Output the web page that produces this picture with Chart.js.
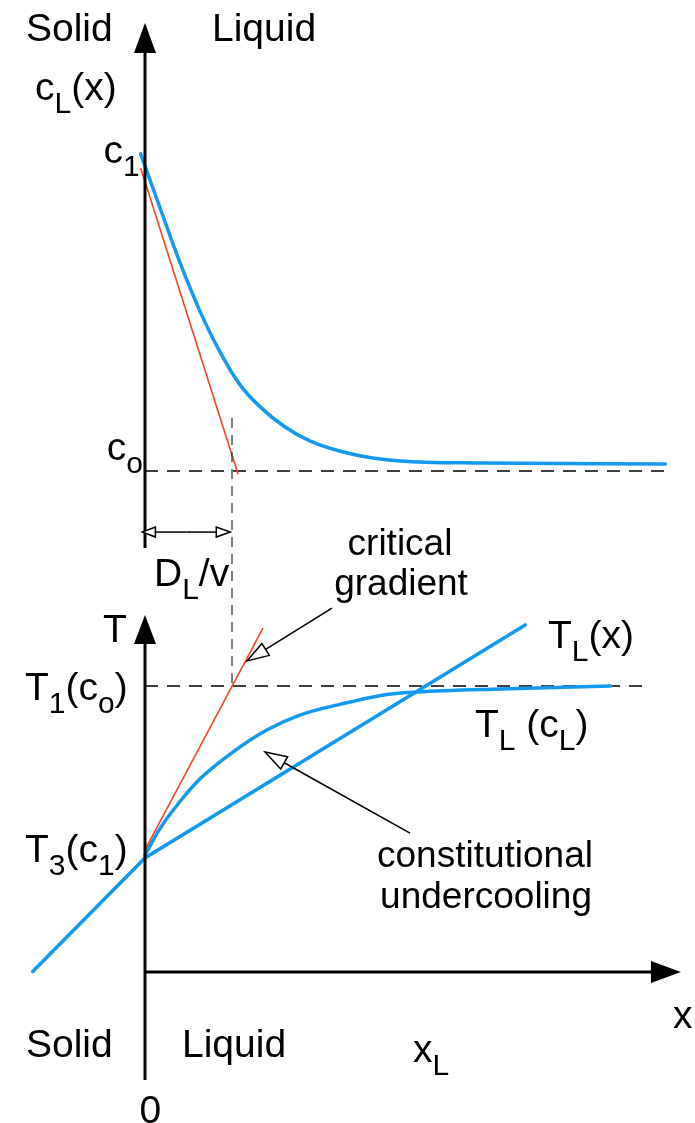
<!DOCTYPE html>
<html>
<head>
<meta charset="utf-8">
<script src="https://cdn.jsdelivr.net/npm/chart.js@4.4.1/dist/chart.umd.min.js"></script>
<style>
  html, body { margin: 0; padding: 0; background: #ffffff; }
  canvas { display: block; }
</style>
</head>
<body>
<canvas id="diagram" width="695" height="1123"></canvas>
<script>
// Distance x from the solid/liquid interface, in units of D_L/v.
// Concentration c in units of c_o; temperature T normalised so T3(c1)=0, T1(co)=1.

// Solute profile in the liquid, c_L(x)
const concX = [-0.05, 0.17, 0.40, 0.63, 0.86, 1.09, 1.32, 1.61, 1.90, 2.36, 2.93, 3.85, 5.98];
const concC = [3.02, 2.68, 2.33, 2.02, 1.76, 1.55, 1.41, 1.28, 1.19, 1.11, 1.064, 1.051, 1.045];

// Tangent to c_L(x) at the interface
const tangentX = [-0.05, 1.07];
const tangentC = [2.93, 0.98];

// Reference levels
const cO = 1;            // bulk concentration c_o
const cOLineEnd = 6.01;  // extent of the c_o guide line
const diffLength = 1;    // D_L/v
const T1 = 1;            // T1(c_o)
const T1LineEnd = 5.72;  // extent of the T1 guide line

// Liquidus temperature following the solute profile, T_L(c_L)
const liqX = [0, 0.17, 0.37, 0.63, 1.01, 1.40, 1.78, 2.36, 2.74, 3.13, 4.08, 5.35];
const liqT = [0.017, 0.169, 0.308, 0.459, 0.616, 0.744, 0.831, 0.907, 0.948, 0.965, 0.983, 1.0];

// Actual temperature T_L(x) (steeper in the solid)
const gradX = [-1.29, 0, 4.37];
const gradT = [-0.66, 0, 1.355];

// Critical gradient line
const critX = [0, 1.356];
const critT = [0.047, 1.337];

const BLUE = '#1399ef';
const RED = '#f2452a';
const INK = '#000000';
const FONT = '"Liberation Sans", Arial, Helvetica, sans-serif';

const pts = (xs, ys) => xs.map((v, i) => ({ x: v, y: ys[i] }));

// Text labels: parts are [text, isSubscript]; anchors are in data units
const labels = [
  { s: 'yc', x: -1.368, y: 3.739, a: 'left', parts: [['Solid', 0]] },
  { s: 'yc', x: 0.770, y: 3.739, a: 'left', parts: [['Liquid', 0]] },
  { s: 'yc', x: -1.264, y: 3.363, a: 'left', parts: [['c', 0], ['L', 1], ['(x)', 0]] },
  { s: 'yc', x: -0.06, y: 2.962, a: 'right', parts: [['c', 0], ['1', 1]] },
  { s: 'yc', x: -0.025, y: 1.07, a: 'right', parts: [['c', 0], ['o', 1]] },
  { s: 'yc', x: 0.103, y: 0.268, a: 'left', parts: [['D', 0], ['L', 1], ['/v', 0]] },
  { s: 'yc', x: 2.931, y: 0.465, a: 'center', f: 37, parts: [['critical', 0]] },
  { s: 'yc', x: 2.943, y: 0.210, a: 'center', f: 37, parts: [['gradient', 0]] },
  { s: 'yT', x: -0.483, y: 1.256, a: 'left', parts: [['T', 0]] },
  { s: 'yT', x: -1.379, y: 0.919, a: 'left', parts: [['T', 0], ['1', 1], ['(c', 0], ['o', 1], [')', 0]] },
  { s: 'yT', x: -1.379, y: -0.023, a: 'left', parts: [['T', 0], ['3', 1], ['(c', 0], ['1', 1], [')', 0]] },
  { s: 'yT', x: 4.632, y: 1.221, a: 'left', parts: [['T', 0], ['L', 1], ['(x)', 0]] },
  { s: 'yT', x: 3.793, y: 0.703, a: 'left', parts: [['T', 0], ['L', 1], [' (c', 0], ['L', 1], [')', 0]] },
  { s: 'yT', x: 3.908, y: -0.052, a: 'center', f: 37, parts: [['constitutional', 0]] },
  { s: 'yT', x: 3.920, y: -0.291, a: 'center', f: 37, parts: [['undercooling', 0]] },
  { s: 'yT', x: -1.368, y: -1.157, a: 'left', parts: [['Solid', 0]] },
  { s: 'yT', x: 0.425, y: -1.157, a: 'left', parts: [['Liquid', 0]] },
  { s: 'yT', x: 3.080, y: -1.186, a: 'left', parts: [['x', 0], ['L', 1]] },
  { s: 'yT', x: 6.069, y: -0.988, a: 'left', parts: [['x', 0]] },
  { s: 'yT', x: 0.06, y: -1.541, a: 'center', parts: [['0', 0]] }
];

function drawRich(ctx, parts, px, py, align, size) {
  const main = size + 'px ' + FONT;
  const sub = Math.round(size * 0.76) + 'px ' + FONT;
  let w = 0;
  parts.forEach(([t, s]) => { ctx.font = s ? sub : main; w += ctx.measureText(t).width; });
  let cx = align === 'right' ? px - w : align === 'center' ? px - w / 2 : px;
  parts.forEach(([t, s]) => {
    ctx.font = s ? sub : main;
    ctx.fillText(t, cx, py + (s ? 13 : 0));
    cx += ctx.measureText(t).width;
  });
}

function filledHead(ctx, tx, ty, ux, uy, len, half) {
  const bx = tx - ux * len, by = ty - uy * len;
  ctx.beginPath();
  ctx.moveTo(tx, ty);
  ctx.lineTo(bx - uy * half, by + ux * half);
  ctx.lineTo(bx + uy * half, by - ux * half);
  ctx.closePath();
  ctx.fill();
}

function openArrow(ctx, x0, y0, x1, y1, len, half) {
  const d = Math.hypot(x1 - x0, y1 - y0);
  const ux = (x1 - x0) / d, uy = (y1 - y0) / d;
  const bx = x1 - ux * len, by = y1 - uy * len;
  ctx.beginPath();
  ctx.moveTo(x0, y0);
  ctx.lineTo(bx, by);
  ctx.stroke();
  ctx.beginPath();
  ctx.moveTo(x1, y1);
  ctx.lineTo(bx - uy * half, by + ux * half);
  ctx.lineTo(bx + uy * half, by - ux * half);
  ctx.closePath();
  ctx.fillStyle = '#ffffff';
  ctx.fill();
  ctx.stroke();
}

const overlay = {
  id: 'overlay',
  afterDatasetsDraw(chart) {
    const { ctx } = chart;
    const sx = chart.scales.x, sc = chart.scales.yc, st = chart.scales.yT;
    const X = v => sx.getPixelForValue(v);
    const C = v => sc.getPixelForValue(v);
    const T = v => st.getPixelForValue(v);
    ctx.save();

    // D_L/v guide joining both panels
    ctx.strokeStyle = '#3a3a3a';
    ctx.lineWidth = 1.3;
    ctx.setLineDash([10, 7]);
    ctx.beginPath();
    ctx.moveTo(X(diffLength), C(1.338));
    ctx.lineTo(X(diffLength), T(T1));
    ctx.stroke();
    ctx.setLineDash([]);

    // Axes
    ctx.strokeStyle = INK;
    ctx.fillStyle = INK;
    ctx.lineWidth = 3;
    ctx.beginPath();
    ctx.moveTo(X(0), C(3.854) + 20);
    ctx.lineTo(X(0), C(0.51));
    ctx.stroke();
    filledHead(ctx, X(0), C(3.854), 0, -1, 30, 11);

    ctx.beginPath();
    ctx.moveTo(X(0), T(1.413) + 20);
    ctx.lineTo(X(0), T(-1.291));
    ctx.stroke();
    filledHead(ctx, X(0), T(1.413), 0, -1, 29, 11);

    ctx.beginPath();
    ctx.moveTo(X(0), T(-0.663));
    ctx.lineTo(X(6.16) - 20, T(-0.663));
    ctx.stroke();
    filledHead(ctx, X(6.16), T(-0.663), 1, 0, 30, 11);

    // D_L/v double arrow
    ctx.lineWidth = 1.5;
    const ay = C(0.611);
    openArrow(ctx, (X(-0.03) + X(0.98)) / 2, ay, X(0.98), ay, 14, 5);
    openArrow(ctx, (X(-0.03) + X(0.98)) / 2, ay, X(-0.03), ay, 13, 5);

    // Annotation pointers
    openArrow(ctx, X(2.149), T(1.453), X(1.172), T(1.145), 22, 7);
    openArrow(ctx, X(3.046), T(0.145), X(1.379), T(0.616), 22, 7);

    // Labels
    ctx.fillStyle = INK;
    ctx.textAlign = 'left';
    ctx.textBaseline = 'alphabetic';
    labels.forEach(l => {
      const py = l.s === 'yc' ? C(l.y) : T(l.y);
      drawRich(ctx, l.parts, X(l.x), py, l.a, l.f || 39);
    });
    ctx.restore();
  }
};

new Chart(document.getElementById('diagram'), {
  type: 'line',
  data: {
    datasets: [
      { data: pts(tangentX, tangentC), yAxisID: 'yc', borderColor: RED, borderWidth: 1.6, order: 0 },
      { data: pts(concX, concC), yAxisID: 'yc', borderColor: BLUE, borderWidth: 3.5, cubicInterpolationMode: 'monotone', borderCapStyle: 'round', order: 1 },
      { data: pts([0, cOLineEnd], [cO, cO]), yAxisID: 'yc', borderColor: INK, borderWidth: 1.4, borderDash: [13, 9], order: 3 },
      { data: pts(critX, critT), yAxisID: 'yT', borderColor: RED, borderWidth: 1.6, order: 0 },
      { data: pts(liqX, liqT), yAxisID: 'yT', borderColor: BLUE, borderWidth: 3.5, cubicInterpolationMode: 'monotone', borderCapStyle: 'round', order: 1 },
      { data: pts(gradX, gradT), yAxisID: 'yT', borderColor: BLUE, borderWidth: 3.5, borderCapStyle: 'round', order: 1 },
      { data: pts([0, T1LineEnd], [T1, T1]), yAxisID: 'yT', borderColor: INK, borderWidth: 1.4, borderDash: [13, 9], order: 3 }
    ]
  },
  options: {
    responsive: false,
    animation: false,
    events: [],
    layout: { padding: 0 },
    elements: { point: { radius: 0 }, line: { fill: false, tension: 0 } },
    plugins: { legend: { display: false }, tooltip: { enabled: false }, title: { display: false } },
    scales: {
      x: { type: 'linear', min: -1.6667, max: 6.3218, display: false },
      yc: { type: 'linear', position: 'left', min: -3.1529, max: 4.0, display: false },
      yT: { type: 'linear', position: 'right', min: -1.5407, max: 4.9884, display: false }
    }
  },
  plugins: [overlay]
});
</script>
</body>
</html>
